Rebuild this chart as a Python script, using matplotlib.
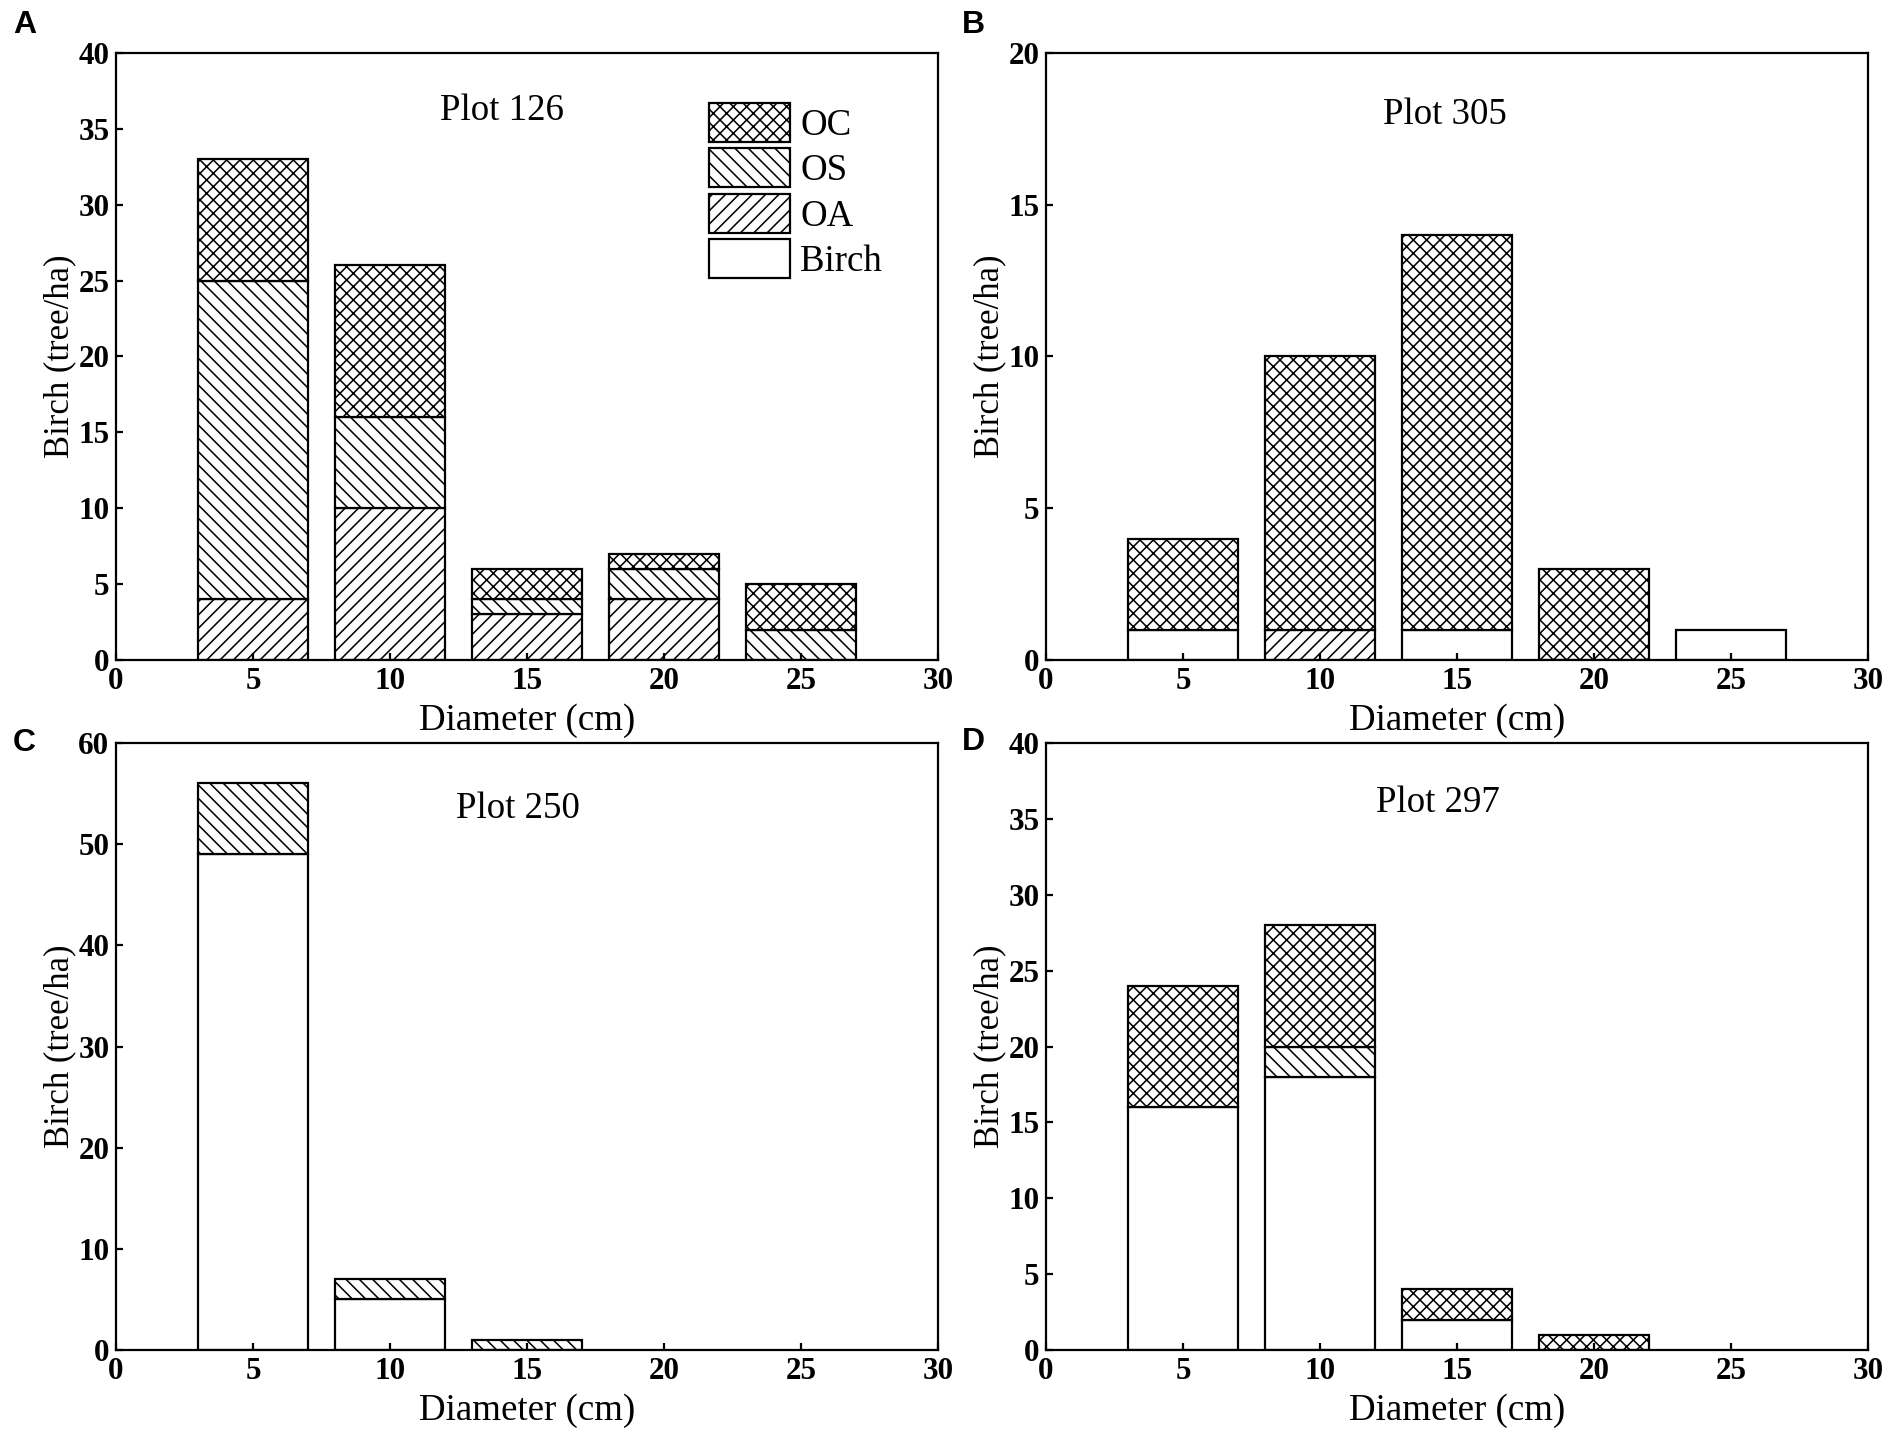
import matplotlib.pyplot as plt
from matplotlib.patches import Patch
import numpy as np

# diameter classes (cm)
diameter = [5, 10, 15, 20, 25]
species = ['Birch', 'OA', 'OS', 'OC']
hatches = {'Birch': '', 'OA': '////', 'OS': '\\\\\\\\', 'OC': 'xxxx'}

# Plot 126
p126_birch = [0, 0, 0, 0, 0]
p126_oa = [4, 10, 3, 4, 0]
p126_os = [21, 6, 1, 2, 2]
p126_oc = [8, 10, 2, 1, 3]

# Plot 305
p305_birch = [1, 0, 1, 0, 1]
p305_oa = [0, 1, 0, 0, 0]
p305_os = [0, 0, 0, 0, 0]
p305_oc = [3, 9, 13, 3, 0]

# Plot 250
p250_birch = [49, 5, 0, 0, 0]
p250_oa = [0, 0, 0, 0, 0]
p250_os = [7, 2, 1, 0, 0]
p250_oc = [0, 0, 0, 0, 0]

# Plot 297
p297_birch = [16, 18, 2, 0, 0]
p297_oa = [0, 0, 0, 0, 0]
p297_os = [0, 2, 0, 0, 0]
p297_oc = [8, 8, 2, 1, 0]

panels = [
    ('A', 'Plot 126', [p126_birch, p126_oa, p126_os, p126_oc], 40, 5),
    ('B', 'Plot 305', [p305_birch, p305_oa, p305_os, p305_oc], 20, 5),
    ('C', 'Plot 250', [p250_birch, p250_oa, p250_os, p250_oc], 60, 10),
    ('D', 'Plot 297', [p297_birch, p297_oa, p297_os, p297_oc], 40, 5),
]

DPI = 160
W, H = 1890, 1438
plt.rcParams['font.family'] = ['Liberation Serif', 'DejaVu Serif']
plt.rcParams['hatch.linewidth'] = 0.7
plt.rcParams['axes.linewidth'] = 1.0

fig = plt.figure(figsize=(W / DPI, H / DPI), dpi=DPI)

# axes boxes in pixels: left, top, right, bottom
boxes = [(116, 53, 938, 660), (1046, 53, 1868, 660),
         (116, 743, 938, 1350), (1046, 743, 1868, 1350)]
letter_pos = [(13, 10), (962, 10), (13, 728), (962, 727)]
title_pos = [(0.47, 0.905), (0.485, 0.899), (0.489, 0.892), (0.477, 0.902)]

for i, (letter, title, stacks, ymax, ystep) in enumerate(panels):
    l, t, r, b = boxes[i]
    ax = fig.add_axes([l / W, 1 - b / H, (r - l) / W, (b - t) / H])
    bottom = np.zeros(len(diameter))
    for name, vals in zip(species, stacks):
        vals = np.array(vals, dtype=float)
        keep = vals > 0
        x = np.array(diameter)[keep]
        ax.bar(x, vals[keep], width=4, bottom=bottom[keep], color='white',
               edgecolor='black', linewidth=1.0, hatch=hatches[name])
        bottom += vals
    ax.set_xlim(0, 30)
    ax.set_ylim(0, ymax)
    ax.set_xticks(np.arange(0, 31, 5))
    ax.set_yticks(np.arange(0, ymax + 1, ystep))
    ax.tick_params(direction='in', length=3, width=1.0, labelsize=14, pad=3)
    for lab in ax.get_xticklabels() + ax.get_yticklabels():
        lab.set_fontweight('bold')
    ax.set_xlabel('Diameter (cm)', fontsize=16.6, labelpad=3.5)
    ax.set_ylabel('Birch (tree/ha)', fontsize=15.6, labelpad=1)
    ax.text(title_pos[i][0], title_pos[i][1], title, transform=ax.transAxes,
            ha='center', va='center', fontsize=16.6)
    fig.text(letter_pos[i][0] / W, 1 - letter_pos[i][1] / H, letter,
             family='Liberation Sans', fontweight='bold', fontsize=14.4,
             ha='left', va='top')
    if i == 0:
        handles = [Patch(facecolor='white', edgecolor='black', linewidth=1.0,
                         hatch=hatches[s]) for s in species[::-1]]
        ax.legend(handles, species[::-1], loc='upper left',
                  bbox_to_anchor=(0.721, 0.918), frameon=False, fontsize=16.6,
                  handlelength=2.2, handleheight=1.25, labelspacing=0.15,
                  handletextpad=0.28, borderpad=0, borderaxespad=0)

fig.savefig('out.png', dpi=DPI)
